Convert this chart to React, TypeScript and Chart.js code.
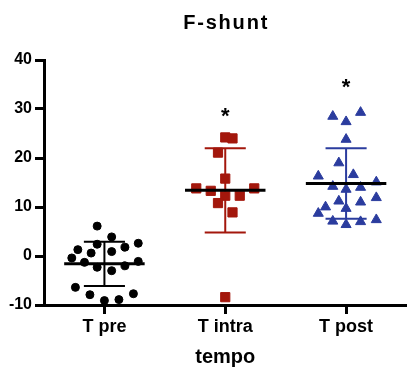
import React, { useEffect, useRef } from 'react';
import { Chart, registerables } from 'chart.js';

Chart.register(...registerables);

// ---- data ----
const categories = ['T pre', 'T intra', 'T post'];

const preValues = [6.1, 3.9, 2.4, 1.8, 2.6, 1.3, 0.6, 0.9, -0.4, -1.3, -2.3, -3.0, -2.0, -1.1, -6.4, -7.9, -9.1, -8.9, -7.7];
const preJitter = [-0.06, 0.06, -0.06, 0.17, 0.28, -0.22, -0.11, 0.06, -0.27, -0.165, -0.06, 0.06, 0.17, 0.28, -0.24, -0.12, 0, 0.12, 0.24];

const intraValues = [24.2, 24.0, 21.1, 15.8, 13.8, 13.3, 12.3, 12.3, 13.8, 10.8, 8.9, -8.4];
const intraJitter = [0, 0.06, -0.06, 0, -0.24, -0.12, 0, 0.12, 0.24, -0.06, 0.06, 0];

const postValues = [28.5, 27.4, 29.3, 23.8, 19.0, 16.3, 16.6, 15.1, 14.2, 13.6, 14.0, 11.2, 11.9, 10.0, 11.0, 9.7, 8.7, 7.1, 6.4, 7.0, 7.4];
const postJitter = [-0.11, 0, 0.12, 0, -0.06, -0.23, 0.06, 0.25, -0.11, 0, 0.12, -0.06, 0.25, -0.17, 0.12, 0, -0.23, -0.11, 0, 0.12, 0.25];

const means = [-1.6, 13.4, 14.8];
const sds = [4.5, 8.6, 7.2];

const sigLabels = ['', '*', '*'];
const sigValues = [0, 29.2, 35.3];

const yTickMin = -10;
const yTickMax = 40;
const yTickStep = 10;

const titleText = 'F-shunt';
const xTitleText = 'tempo';

const groupColors = ['#000000', '#A3170C', '#2B3C9E'];
const groupStyles = ['circle', 'rect', 'triangle'];
const groupRadius = [4, 6.5, 5.8];

const FONT = "'Liberation Sans', Arial, Helvetica, sans-serif";

export default function App() {
  const ref = useRef<HTMLCanvasElement>(null);

  useEffect(() => {
    document.body.style.margin = '0';
    const canvas = ref.current;
    if (!canvas) return;

    const groupValues = [preValues, intraValues, postValues];
    const groupJitter = [preJitter, intraJitter, postJitter];

    const datasets: any[] = [];

    // mean lines (on top)
    groupValues.forEach((_, i) => {
      const c = i + 1;
      datasets.push({
        type: 'line',
        data: [
          { x: c - 0.333, y: means[i] },
          { x: c + 0.333, y: means[i] },
        ],
        borderColor: '#000000',
        borderWidth: 3,
        borderCapStyle: 'butt',
        pointRadius: 0,
        showLine: true,
        order: 0,
      });
    });

    // points
    groupValues.forEach((vals, i) => {
      const c = i + 1;
      datasets.push({
        type: 'scatter',
        data: vals.map((v, k) => ({ x: c + groupJitter[i][k], y: v })),
        pointStyle: groupStyles[i],
        pointRadius: groupRadius[i],
        backgroundColor: groupColors[i],
        borderColor: groupColors[i],
        borderWidth: 1,
        order: 1,
      });
    });

    // error bars (mean ± SD)
    groupValues.forEach((_, i) => {
      const c = i + 1;
      const hi = means[i] + sds[i];
      const lo = means[i] - sds[i];
      const cap = 0.17;
      datasets.push({
        type: 'line',
        data: [
          { x: c - cap, y: hi },
          { x: c + cap, y: hi },
          { x: c, y: null },
          { x: c, y: hi },
          { x: c, y: lo },
          { x: c, y: null },
          { x: c - cap, y: lo },
          { x: c + cap, y: lo },
        ],
        borderColor: groupColors[i],
        borderWidth: 2,
        borderCapStyle: 'butt',
        pointRadius: 0,
        showLine: true,
        spanGaps: false,
        order: 2,
      });
    });

    const textPlugin = {
      id: 'textPlugin',
      afterDatasetsDraw(chart: any) {
        const { ctx, scales, chartArea } = chart;
        ctx.save();
        ctx.fillStyle = '#000';
        // significance marks
        ctx.font = `bold 22px ${FONT}`;
        ctx.textAlign = 'center';
        ctx.textBaseline = 'alphabetic';
        sigLabels.forEach((lab, i) => {
          if (!lab) return;
          const m = ctx.measureText(lab);
          const px = scales.x.getPixelForValue(i + 1);
          const py = scales.y.getPixelForValue(sigValues[i]);
          const base = py + (m.actualBoundingBoxAscent - m.actualBoundingBoxDescent) / 2;
          ctx.fillText(lab, px, base);
        });
        // chart title, centred over the plot area
        ctx.font = `bold 20px ${FONT}`;
        (ctx as any).letterSpacing = '1.8px';
        const cx = (chartArea.left + chartArea.right) / 2 + 0.9;
        ctx.fillText(titleText, cx, 29);
        ctx.restore();
      },
    };

    const axisGrid = {
      drawOnChartArea: false,
      drawTicks: true,
      tickLength: 9,
      tickWidth: 3,
      tickColor: '#000',
    };

    const chart = new Chart(canvas, {
      type: 'scatter',
      data: { datasets },
      plugins: [textPlugin],
      options: {
        animation: false,
        responsive: false,
        devicePixelRatio: 1,
        layout: { padding: { top: 60, left: 0, right: 0, bottom: 0 } },
        plugins: {
          legend: { display: false },
          tooltip: { enabled: false },
          title: { display: false },
        },
        scales: {
          x: {
            type: 'linear',
            min: 0.5,
            max: 3.5,
            afterBuildTicks: (s: any) => {
              s.ticks = categories.map((_, i) => ({ value: i + 1 }));
            },
            afterFit: (s: any) => {
              s.height = 64;
            },
            ticks: {
              callback: (_v: any, idx: number) => categories[idx],
              color: '#000',
              font: { family: FONT, size: 18, weight: 'bold' },
              padding: 2,
              autoSkip: false,
              maxRotation: 0,
            },
            grid: axisGrid,
            border: { display: true, color: '#000', width: 3 },
            title: {
              display: true,
              text: xTitleText,
              color: '#000',
              font: { family: FONT, size: 20, weight: 'bold' },
              padding: { top: 0, bottom: 0 },
            },
          },
          y: {
            type: 'linear',
            min: yTickMin,
            max: yTickMax,
            afterFit: (s: any) => {
              s.width = 44;
            },
            ticks: {
              stepSize: yTickStep,
              color: '#000',
              font: { family: FONT, size: 16, weight: 'bold' },
              padding: 3,
            },
            grid: axisGrid,
            border: { display: true, color: '#000', width: 3 },
          },
        },
      } as any,
    });

    return () => chart.destroy();
  }, []);

  return (
    <div style={{ width: 411, height: 369, overflow: 'hidden' }}>
      <canvas ref={ref} width={414} height={369} style={{ display: 'block' }} />
    </div>
  );
}
